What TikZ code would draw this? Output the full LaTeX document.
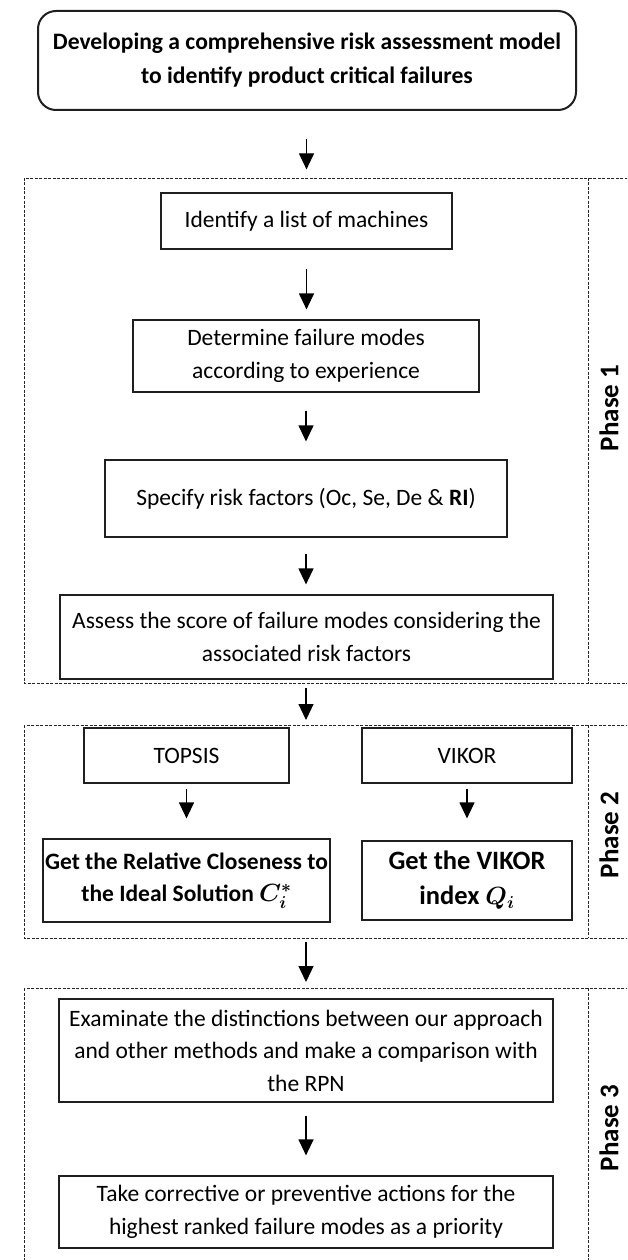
\documentclass[tikz,border=0pt]{standalone}
\usepackage{fontspec}
\setmainfont{Carlito}
\usepackage{amsmath,bm}
\usetikzlibrary{arrows.meta}
\tikzset{
  box/.style={draw=black!88, line width=1.2pt, align=center, inner sep=0pt,
    font=\fontsize{23.5}{33}\selectfont, text=black},
  topbox/.style={box, line width=2pt, rounded corners=18pt,
    font=\bfseries\fontsize{23.6}{34}\selectfont},
  frame/.style={draw=black!85, line width=0.9pt, dash pattern=on 3pt off 1.5pt},
  arr/.style={draw=black, line width=1.2pt, -{Triangle[length=16pt,width=15pt]}},
  phase/.style={font=\bfseries\fontsize{27}{30}\selectfont, rotate=90, text=black}
}
\begin{document}
\begin{tikzpicture}[x=1pt,y=-1pt]
\useasboundingbox (0,0) rectangle (627,1260);
\clip (0,0) rectangle (627,1260);
\fill[white] (0,0) rectangle (627,1260);

% phase frames
\draw[frame] (24,178) rectangle (660,683);
\draw[frame] (588,178) -- (588,683);
\draw[frame] (24,725) rectangle (660,938);
\draw[frame] (588,725) -- (588,938);
\draw[frame] (24,988) rectangle (660,1300);
\draw[frame] (588,988) -- (588,1300);

\coordinate (p1bot) at (306,683);
\coordinate (p2top) at (306,725);
\coordinate (p2bot) at (306,938);
\coordinate (p3top) at (306,988);

\node[phase] (ph1) at (609,408) {Phase 1};
\node[phase] (ph2) at (609,835) {Phase 2};
\node[phase] (ph3) at (609,1128) {Phase 3};

% nodes
\node[topbox, minimum width=538pt, minimum height=99pt] (top) at (307,60.5)
  {Developing a comprehensive risk assessment model\\to identify product critical failures};
\node[box, minimum width=291pt, minimum height=56pt] (n1) at (306.5,221)
  {Identify a list of machines};
\node[box, minimum width=346pt, minimum height=72pt] (n2) at (306,356)
  {Determine failure modes\\according to experience};
\node[box, minimum width=402pt, minimum height=77pt] (n3) at (306,498.5)
  {Specify risk factors (Oc, Se, De \& \textbf{RI})};
\node[box, minimum width=493pt, minimum height=84pt] (n4) at (306.5,637)
  {Assess the score of failure modes considering the\\associated risk factors};
\node[box, minimum width=205pt, minimum height=55pt] (tops) at (186.5,755.5)
  {TOPSIS};
\node[box, minimum width=210pt, minimum height=55pt] (vik) at (467,755.5)
  {VIKOR};
\node[box, minimum width=287pt, minimum height=83pt, font=\bfseries\fontsize{23.5}{32}\selectfont] (clos) at (186.5,880.5)
  {Get the Relative Closeness to\\the Ideal Solution $\bm{C_i^{*}}$};
\node[box, minimum width=210pt, minimum height=79pt, font=\bfseries\fontsize{26.5}{35}\selectfont] (qidx) at (467,880.5)
  {Get the VIKOR\\index $\bm{Q_i}$};
\node[box, minimum width=494pt, minimum height=103pt, font=\fontsize{23.5}{32.5}\selectfont] (exam) at (306,1050.5)
  {Examinate the distinctions between our approach\\and other methods and make a comparison with\\the RPN};
\node[box, minimum width=494pt, minimum height=72pt] (take) at (306,1212)
  {Take corrective or preventive actions for the\\highest ranked failure modes as a priority};

% connectors
\draw[arr, shorten <=28pt, shorten >=23pt] (top.south -| n1.north) -- (n1.north);
\draw[arr, shorten <=19pt, shorten >=10pt] (n1.south) -- (n1.south |- n2.north);
\draw[arr, shorten <=18pt, shorten >=18pt] (n2.south) -- (n2.south |- n3.north);
\draw[arr, shorten <=16pt, shorten >=10pt] (n3.south) -- (n3.south |- n4.north);
\draw[arr, shorten <=5pt, shorten >=5pt] (p1bot) -- (p2top);
\draw[arr, shorten <=5pt, shorten >=20pt] (tops.south) -- (clos.north);
\draw[arr, shorten <=5pt, shorten >=22pt] (vik.south) -- (qidx.north);
\draw[arr, shorten <=4pt, shorten >=6pt] (p2bot) -- (p3top);
\draw[arr, shorten <=13pt, shorten >=20pt] (exam.south) -- (take.north);
\end{tikzpicture}
\end{document}
